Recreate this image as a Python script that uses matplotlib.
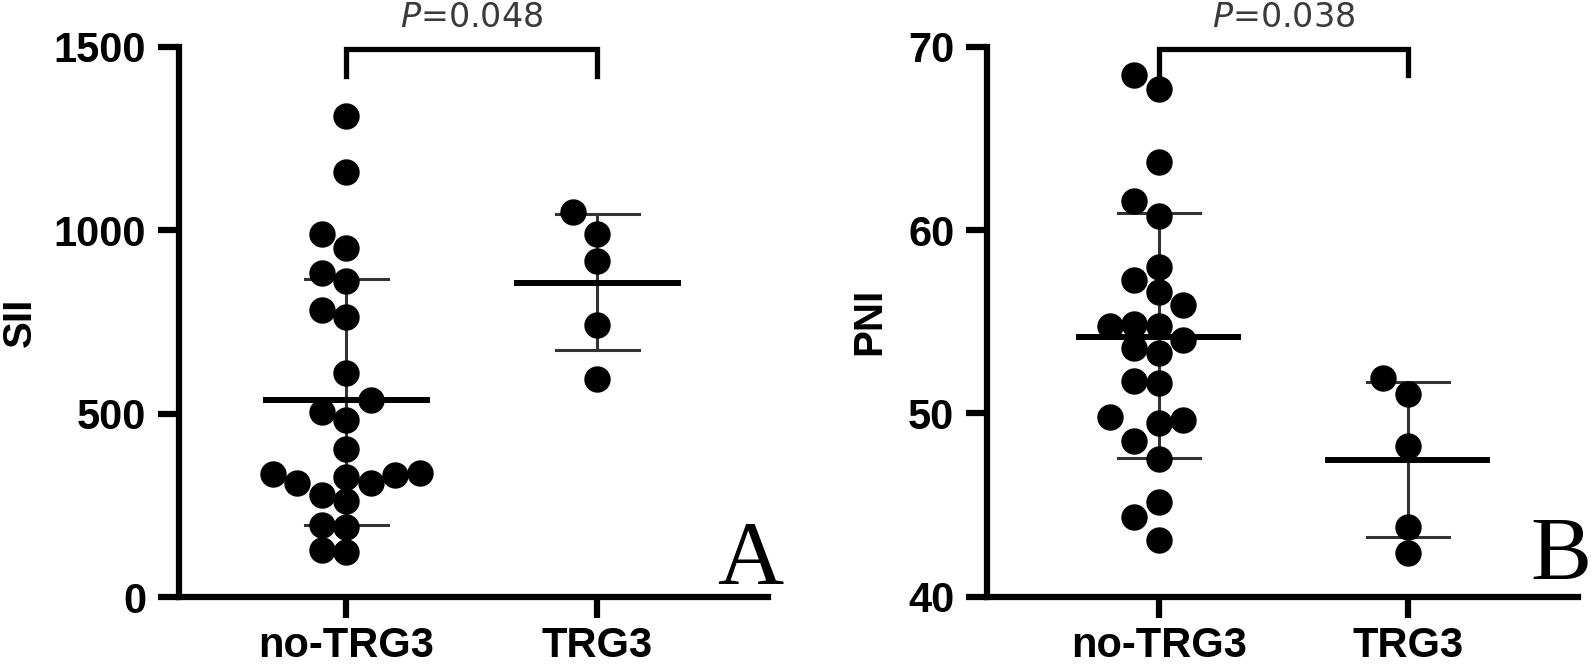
import matplotlib.pyplot as plt

# categories and values
groups = ["no-TRG3", "TRG3"]

sii_no_trg3 = [1312, 1159, 990, 951, 884, 862, 783, 763, 610, 537, 506, 483, 404,
               338, 336, 333, 329, 311, 311, 279, 263, 197, 192, 129, 124]
sii_trg3 = [1049, 990, 917, 742, 595]
sii_mean = [537, 857]
sii_low = [197, 673]
sii_high = [867, 1045]

pni_no_trg3 = [68.47, 67.71, 63.72, 61.61, 60.77, 57.99, 57.29, 56.61, 55.92, 54.89,
               54.74, 54.74, 53.99, 53.57, 53.29, 51.79, 51.64, 49.78, 49.63, 49.50,
               48.50, 47.53, 45.18, 44.37, 43.11]
pni_trg3 = [51.91, 51.06, 48.20, 43.82, 42.40]
pni_mean = [54.14, 47.46]
pni_low = [47.56, 43.24]
pni_high = [60.93, 51.69]

sii_ticks = [0, 500, 1000, 1500]
pni_ticks = [40, 50, 60, 70]
p_values = ["0.048", "0.038"]

plt.rcParams['font.family'] = ['Liberation Sans', 'DejaVu Sans']

fig = plt.figure(figsize=(15.92, 6.68), dpi=100)


def swarm_offsets(ax, xc, values, diam=24.0, step=24.5):
    # simple greedy beeswarm, computed in display pixels
    to_disp = ax.transData.transform
    px_per_x = to_disp((1, 0))[0] - to_disp((0, 0))[0]
    ys = [to_disp((xc, v))[1] for v in values]
    cands = [0]
    for j in range(1, 10):
        cands += [-j, j]
    placed = []
    offsets = [0.0] * len(values)
    for i in sorted(range(len(values)), key=lambda k: values[k]):
        for c in cands:
            dx = c * step
            if all((dx - px) ** 2 + (ys[i] - py) ** 2 >= diam ** 2 for px, py in placed):
                break
        placed.append((dx, ys[i]))
        offsets[i] = dx / px_per_x
    return offsets


def draw_panel(rect, xlim, ylim, yticks, series, mean, low, high, ylabel, label_x,
               pval, bracket, letter_pos, letter):
    ax = fig.add_axes(rect)
    ax.set_xlim(*xlim)
    ax.set_ylim(*ylim)

    for i, vals in enumerate(series):
        # error bar (SD) and caps
        ax.plot([i, i], [low[i], high[i]], color='#333333', lw=2.2, zorder=2)
        for v in (low[i], high[i]):
            ax.plot([i - 0.165, i + 0.165], [v, v], color='#333333', lw=2.2, zorder=2)
        # mean line
        ax.plot([i - 0.32, i + 0.32], [mean[i], mean[i]], color='black', lw=4.3, zorder=4)
        offs = swarm_offsets(ax, i, vals)
        ax.plot([i + o for o in offs], vals, 'o', ms=18, color='black',
                zorder=3, clip_on=False)

    for s in ['top', 'right']:
        ax.spines[s].set_visible(False)
    for s in ['left', 'bottom']:
        ax.spines[s].set_linewidth(4.5)
    ax.tick_params(axis='both', length=15, width=4.5, labelsize=30)
    ax.tick_params(axis='y', pad=8.5)
    ax.tick_params(axis='x', pad=6)
    ax.set_yticks(yticks)
    ax.set_xticks(range(len(groups)))
    ax.set_xticklabels(groups)
    for lab in ax.get_xticklabels() + ax.get_yticklabels():
        lab.set_fontweight('bold')
    ax.set_ylabel(ylabel, fontsize=29, fontweight='bold')
    ax.yaxis.set_label_coords(label_x, 0.5)

    # significance bracket
    top, end, text_y = bracket
    ax.plot([0, 0, 1, 1], [end, top, top, end], color='black', lw=3.8,
            clip_on=False, solid_joinstyle='miter')
    ax.text(0.5, text_y, r"$\mathit{P}$=" + pval, ha='center', va='baseline',
            fontsize=24, color='#3a3a3a', family='DejaVu Sans', clip_on=False)

    fig.text(letter_pos[0], letter_pos[1], letter, ha='right', va='baseline',
             family='Liberation Serif', fontsize=66)
    return ax


draw_panel([0.1124, 0.1058, 0.370, 0.8243], (-0.667, 1.68), (0, 1500), sii_ticks,
           [sii_no_trg3, sii_trg3], sii_mean, sii_low, sii_high, "SII", -0.238,
           p_values[0], (1495, 1420, 1554), (0.492, 0.1257), "A")

draw_panel([0.620, 0.1067, 0.3712, 0.8234], (-0.69, 1.684), (40, 70), pni_ticks,
           [pni_no_trg3, pni_trg3], pni_mean, pni_low, pni_high, "PNI", -0.168,
           p_values[1], (69.87, 68.45, 71.09), (0.9995, 0.1317), "B")

plt.savefig("out.png", dpi=100)
